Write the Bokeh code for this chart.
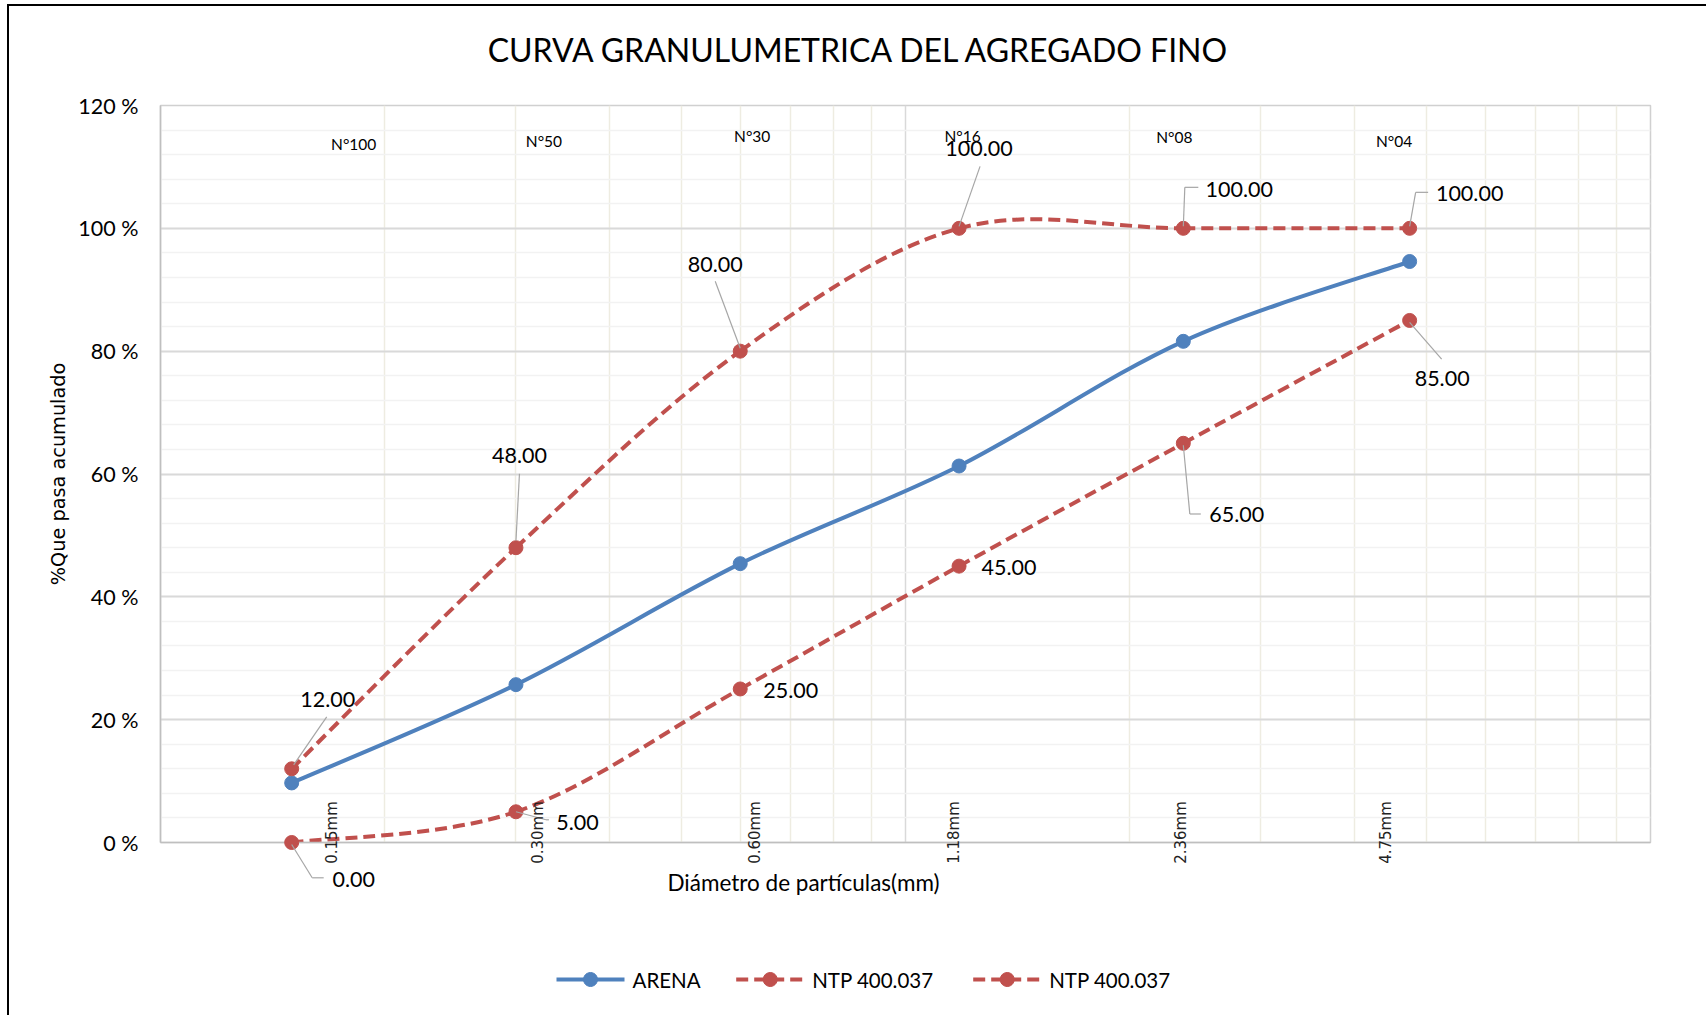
import numpy as np
from bokeh.plotting import figure
from bokeh.models import ColumnDataSource, FixedTicker
from bokeh.core.properties import value
from bokeh.embed import file_html
from bokeh.resources import INLINE

# ---------------- data ----------------
sieve_mm = [0.15, 0.30, 0.60, 1.18, 2.36, 4.75]
sieve_names = ["N°100", "N°50", "N°30", "N°16", "N°08", "N°04"]
size_labels = ["0.15mm", "0.30mm", "0.60mm", "1.18mm", "2.36mm", "4.75mm"]
arena = [9.7, 25.7, 45.4, 61.3, 81.6, 94.6]
ntp_upper = [12.0, 48.0, 80.0, 100.0, 100.0, 100.0]
ntp_lower = [0.0, 5.0, 25.0, 45.0, 65.0, 85.0]
series_names = ["ARENA", "NTP 400.037", "NTP 400.037"]

y_ticks = [0, 20, 40, 60, 80, 100, 120]
y_tick_labels = ["0 %", "20 %", "40 %", "60 %", "80 %", "100 %", "120 %"]
y_minor = list(range(0, 121, 4))
x_major = [0.1, 1, 10]
x_minor = [0.2, 0.3, 0.4, 0.5, 0.6, 0.7, 0.8, 0.9, 2, 3, 4, 5, 6, 7, 8, 9]

TITLE = "CURVA GRANULUMETRICA DEL AGREGADO FINO"
X_TITLE = "Diámetro de partículas(mm)"
Y_TITLE = "%Que pasa acumulado"

# ---------------- layout / style ----------------
FW, FH = 1490, 737
PX_DEC = FW / 2.0          # pixels per decade (x range 0.1..10)
PX_PCT = FH / 120.0        # pixels per percent (y range 0..120)
BLUE = "#4F81BD"
RED = "#C0504D"
LEADER = "#A6A6A6"
FONT = "Lato"
DASH = "12 6"
series_colors = [BLUE, RED, RED]
series_dash = ["solid", DASH, DASH]

# label offsets in screen px from their point (dx right, dy down)
upper_lbl_off = [(36, -69), (3.5, -92), (-25, -87), (20, -79.5), (56, -39), (60, -35)]
upper_leaders = [[(2, -4), (35, -52)], [(0, -7), (3.5, -74)], [(0, -3), (-25, -70)],
                 [(0, -2), (21, -62)], [(0, -2), (1.5, -41), (15, -41)],
                 [(0, -2), (6, -36), (18.5, -36)]]
lower_lbl_off = [(62, 37), (61.5, 10.5), (50.5, 1.5), (50, 1), (53.5, 71.5), (32.5, 58.5)]
lower_leaders = [[(0, 2), (20.5, 35.3), (32, 35.3)], [(0, 0), (30, 8), (33, 8)], [], [],
                 [(0, 2), (6.5, 70.7), (17.5, 70.7)], [(0, 2), (32, 38.6)]]
name_dx = [62, 28, 12, 3.5, -9, -15.5]
name_dy_from_top = [38, 35.5, 30.5, 30.5, 31.5, 35.5]
size_dx = [40, 22.5, 15, -5, -2, -24]
size_dy_above_axis = 10
TITLE_PX = (699, -56)            # from frame top-left (right, down)
XTITLE_PX = (643, 40)            # from frame bottom-left (right, down)
LEG_Y_PX = 137                   # legend row, px below the x axis
LEG_START_PX = [396, 575.7, 812.7]
LEG_GLYPH_W = 68
LEG_TEXT_GAP = 76
LEG_MARK_R = 7


def to_data(x, y, dx, dy):
    """Convert a pixel offset from a data point to data coordinates."""
    return 10 ** (np.log10(x) + dx / PX_DEC), y - dy / PX_PCT


def smooth_bezier(xs, ys):
    u = np.log10(np.asarray(xs, float))
    y = np.asarray(ys, float)
    n = len(u)
    pu = np.concatenate([[u[0]], u, [u[-1]]])
    py = np.concatenate([[y[0]], y, [y[-1]]])
    cu0 = u[:-1] + (pu[2:n + 1] - pu[0:n - 1]) / 6.0
    cy0 = y[:-1] + (py[2:n + 1] - py[0:n - 1]) / 6.0
    cu1 = u[1:] - (pu[3:n + 2] - pu[1:n]) / 6.0
    cy1 = y[1:] - (py[3:n + 2] - py[1:n]) / 6.0
    return dict(x0=10 ** u[:-1], y0=y[:-1], x1=10 ** u[1:], y1=y[1:],
                cx0=10 ** cu0, cy0=cy0, cx1=10 ** cu1, cy1=cy1)


p = figure(frame_width=FW, frame_height=FH, x_axis_type="log",
           x_range=(0.1, 10), y_range=(0, 120),
           min_border_left=151, min_border_right=56, min_border_top=99,
           min_border_bottom=173, output_backend="svg", toolbar_location=None,
           background_fill_color="white", border_fill_color="white")
p.styles = {"margin-left": "7px", "margin-top": "4px",
            "border-left": "2px solid #000000", "border-top": "2px solid #000000"}
p.outline_line_color = "#D0D0D0"
p.outline_line_width = 1.5

# axes
p.xaxis.ticker = FixedTicker(ticks=x_major, minor_ticks=x_minor)
p.yaxis.ticker = FixedTicker(ticks=y_ticks, minor_ticks=y_minor)
p.yaxis.major_label_overrides = {t: l for t, l in zip(y_ticks, y_tick_labels)}
for ax in (p.xaxis, p.yaxis):
    ax.major_tick_line_color = None
    ax.minor_tick_line_color = None
    ax.axis_line_color = "#BFBFBF"
    ax.axis_line_width = 1.5
    ax.axis_label_text_font_style = "normal"
    ax.axis_label_text_color = "#000000"
p.xaxis.major_label_text_font_size = "10px"
p.xaxis.major_label_text_color = None
p.xaxis.major_label_standoff = 0
p.xaxis.major_tick_out = 0
p.yaxis.major_label_text_font = FONT
p.yaxis.major_label_text_font_size = "21.5px"
p.yaxis.major_label_text_color = "#000000"
p.yaxis.major_label_standoff = 18
p.yaxis.major_tick_out = 0
p.yaxis.axis_label = Y_TITLE
p.yaxis.axis_label_text_font = "DejaVu Sans"
p.yaxis.axis_label_text_font_size = "19.3px"
p.yaxis.axis_label_standoff = 5

# grids
p.xgrid.grid_line_color = "#D9D9D9"
p.xgrid.grid_line_width = 1.5
p.xgrid.minor_grid_line_color = "#EEECE1"
p.xgrid.minor_grid_line_width = 1.5
p.ygrid.grid_line_color = "#D9D9D9"
p.ygrid.grid_line_width = 2
p.ygrid.minor_grid_line_color = "#F2F2F2"
p.ygrid.minor_grid_line_width = 1.5

# series (smoothed lines + markers)
for vals, col, dash in zip([arena, ntp_upper, ntp_lower], series_colors, series_dash):
    src = ColumnDataSource(smooth_bezier(sieve_mm, vals))
    p.bezier(x0="x0", y0="y0", x1="x1", y1="y1", cx0="cx0", cy0="cy0",
             cx1="cx1", cy1="cy1", source=src, line_color=col, line_width=4,
             line_dash=dash)
    p.scatter(sieve_mm, vals, size=14, fill_color=col, line_color=col, level="overlay")

# data labels + leaders
lx, ly, lt = [], [], []
ax0, ay0, ax1, ay1 = [], [], [], []
for vals, offs, leads in ((ntp_upper, upper_lbl_off, upper_leaders),
                          (ntp_lower, lower_lbl_off, lower_leaders)):
    for x, v, (dx, dy), lead in zip(sieve_mm, vals, offs, leads):
        tx, ty = to_data(x, v, dx, dy)
        lx.append(tx); ly.append(ty); lt.append(f"{v:.2f}")
        pts = [to_data(x, v, a, b) for a, b in lead]
        for (xa, ya), (xb, yb) in zip(pts[:-1], pts[1:]):
            ax0.append(xa); ay0.append(ya); ax1.append(xb); ay1.append(yb)

p.segment(x0=ax0, y0=ay0, x1=ax1, y1=ay1, line_color=LEADER, line_width=1.2,
          level="overlay")
p.text(x=lx, y=ly, text=lt, text_font=value(FONT), text_font_size="21.5px",
       text_color="#000000", text_align="center", text_baseline="middle",
       level="overlay")

# sieve names (top)
nx, ny = [], []
for x, dx, dy in zip(sieve_mm, name_dx, name_dy_from_top):
    tx, ty = to_data(x, 120, dx, dy)
    nx.append(tx); ny.append(ty)
p.text(x=nx, y=ny, text=sieve_names, text_font=value(FONT), text_font_size="15.5px",
       text_color="#000000", text_align="center", text_baseline="middle",
       level="overlay")

# size labels (rotated, near axis)
sx, sy = [], []
for x, dx in zip(sieve_mm, size_dx):
    tx, ty = to_data(x, 0, dx, -size_dy_above_axis)
    sx.append(tx); sy.append(ty)
p.text(x=sx, y=sy, text=size_labels, angle=np.pi / 2,
       text_font=value("DejaVu Sans"), text_font_size="15px",
       text_color="#222222", text_align="center", text_baseline="middle",
       level="overlay")

# chart title
tt_x, tt_y = to_data(0.1, 120, TITLE_PX[0], TITLE_PX[1])
p.text(x=[tt_x], y=[tt_y], text=[TITLE], text_font=value(FONT), text_font_size="32px",
       text_color="#000000", text_align="center", text_baseline="middle",
       level="overlay")

# x-axis title
xt, yt = to_data(0.1, 0, XTITLE_PX[0], XTITLE_PX[1])
p.text(x=[xt], y=[yt], text=[X_TITLE], text_font=value(FONT), text_font_size="22.5px",
       text_color="#000000", text_align="center", text_baseline="middle",
       level="overlay")

# legend row (drawn below the plot area)
ang = np.linspace(0, 2 * np.pi, 25)
for name, col, dash, start in zip(series_names, series_colors, series_dash, LEG_START_PX):
    gx0, gy = to_data(0.1, 0, start, LEG_Y_PX)
    gx1, _ = to_data(0.1, 0, start + LEG_GLYPH_W, LEG_Y_PX)
    gxt, _ = to_data(0.1, 0, start + LEG_TEXT_GAP, LEG_Y_PX)
    p.segment(x0=[gx0], y0=[gy], x1=[gx1], y1=[gy], line_color=col, line_width=4,
              line_dash=dash, level="overlay")
    mx = [to_data(0.1, 0, start + LEG_GLYPH_W / 2 + LEG_MARK_R * np.cos(a),
                  LEG_Y_PX + LEG_MARK_R * np.sin(a))[0] for a in ang]
    my = [to_data(0.1, 0, start + LEG_GLYPH_W / 2 + LEG_MARK_R * np.cos(a),
                  LEG_Y_PX + LEG_MARK_R * np.sin(a))[1] for a in ang]
    p.patch(mx, my, fill_color=col, line_color=col, level="overlay")
    p.text(x=[gxt], y=[gy], text=[name], text_font=value(FONT), text_font_size="20.5px",
           text_color="#000000", text_align="left", text_baseline="middle",
           level="overlay")

open("out.html", "w").write(file_html(p, INLINE))
